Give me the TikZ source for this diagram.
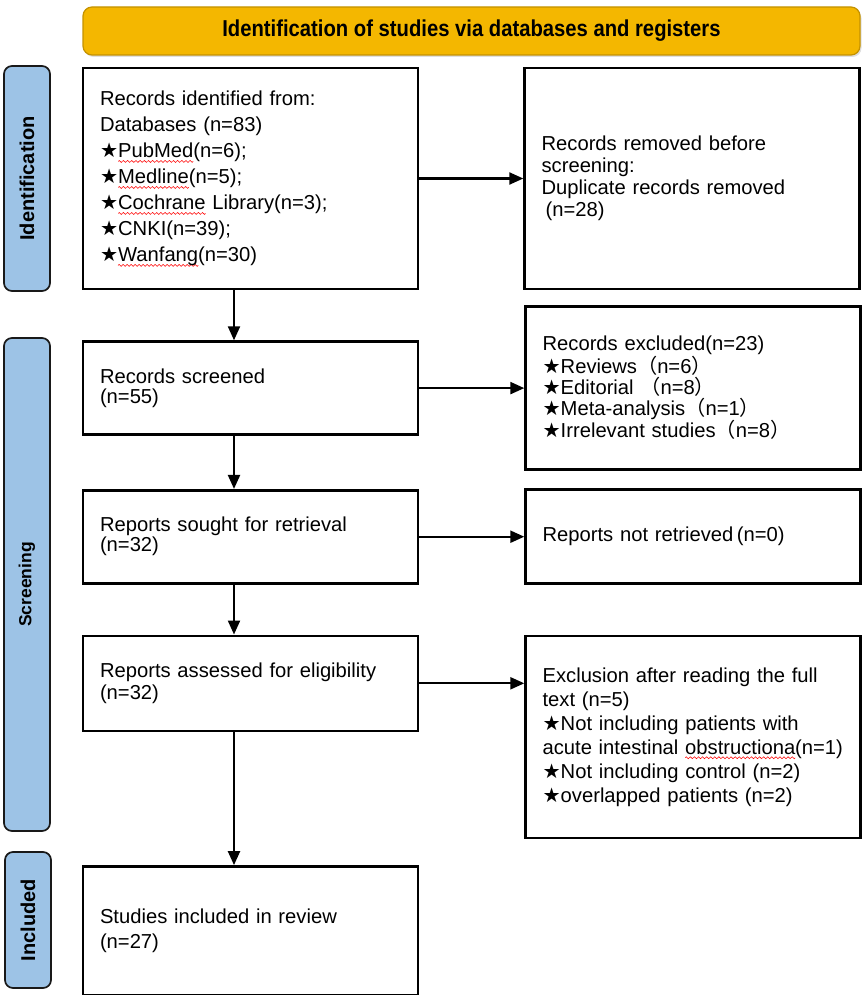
\documentclass[tikz,border=0pt]{standalone}
\usepackage{fontspec}
\setmainfont{Liberation Sans}
\newfontfamily\symfont{DejaVu Sans}
\newfontfamily\cjk{Noto Sans CJK SC}
\newfontfamily\narrowfont[FakeStretch=0.88]{Liberation Sans}
\usepackage{xcolor}
\usetikzlibrary{arrows.meta, positioning, shadows}

\definecolor{bannergold}{RGB}{244,183,0}
\definecolor{bannerline}{RGB}{196,146,0}
\definecolor{sideblue}{RGB}{157,195,230}

\newsavebox\wavebox
\newlength\wavelen
\newcommand\redwave[1]{\settowidth\wavelen{#1}\rlap{\raisebox{-5pt}[0pt][0pt]{\hbox to\wavelen{\xleaders\copy\wavebox\hfill}}}#1}
\newcommand\bstar{{\symfont ★}}
\newcommand\fwl{{\cjk （}}
\newcommand\fwr{{\cjk ）}}
\newcommand\fs[1]{\fontsize{20.2}{#1}\selectfont}

\begin{document}
\sbox\wavebox{\begin{pgfpicture}
  \pgfsetlinewidth{0.55pt}\pgfsetstrokecolor{red}
  \pgfpathmoveto{\pgfpoint{0pt}{0pt}}
  \pgfpathcurveto{\pgfpoint{0.7pt}{1.3pt}}{\pgfpoint{1.3pt}{1.3pt}}{\pgfpoint{2pt}{0pt}}
  \pgfpathcurveto{\pgfpoint{2.7pt}{-1.3pt}}{\pgfpoint{3.3pt}{-1.3pt}}{\pgfpoint{4pt}{0pt}}
  \pgfusepath{stroke}
  \pgfresetboundingbox
  \pgfpathrectangle{\pgfpoint{0pt}{-1.3pt}}{\pgfpoint{4pt}{2.6pt}}
  \pgfusepath{use as bounding box}
\end{pgfpicture}}
\begin{tikzpicture}[x=1pt, y=-1pt,
    box/.style={draw, line width=2.6pt, align=left, inner xsep=17pt, inner ysep=0pt,
      text width=301pt, minimum width=335pt},
    side/.style={draw=black!90, line width=1.7pt, fill=sideblue, rounded corners=8pt,
      rotate=90, minimum height=46pt, font=\bfseries\fontsize{20}{24}\selectfont},
    arr/.style={line width=2.2pt, -{Triangle[length=14pt, width=12pt]}}]
        \useasboundingbox (0,0) rectangle (863,995);

        % heading
        \draw node[draw=bannerline, line width=1.2pt, fill=bannergold, rounded corners=9pt,
          minimum width=777pt, minimum height=48pt,
          drop shadow={shadow xshift=1.5pt, shadow yshift=-2pt, opacity=0.25},
          font=\narrowfont\bfseries\fontsize{23}{26}\selectfont] (head) at (471.5,31)
          {Identification of studies via databases and registers};

        % phases
        \draw node[side, minimum width=225pt] (ph1) at (27,178.5) {Identification};
        \draw node[side, minimum width=493pt, font=\bfseries\fontsize{17.5}{22}\selectfont] (ph2) at (27,584.5) {Screening};
        \draw node[side, minimum width=136pt] (ph3) at (28,920) {Included};

        % main column
        \draw node[box, minimum height=221pt, font=\fs{26}] (rec) at (250.5,178.5)
          {Records identified from:\\ Databases (n=83)\\
           \bstar\redwave{PubMed}(n=6);\\ \bstar\redwave{Medline}(n=5);\\
           \bstar\redwave{Cochrane} Library(n=3);\\ \bstar CNKI(n=39);\\
           \bstar\redwave{Wanfang}(n=30)};
        \draw node[box, minimum height=93pt, font=\fs{20}, below=50pt of rec] (scr)
          {Records screened\\ (n=55)};
        \draw node[box, minimum height=93pt, font=\fs{20}, below=53pt of scr] (sought)
          {Reports sought for retrieval\\ (n=32)};
        \draw node[box, minimum height=95pt, font=\fs{22}, below=50pt of sought] (elig)
          {Reports assessed for eligibility\\ (n=32)};
        \draw node[box, minimum height=129pt, font=\fs{25}, below=133pt of elig] (incl)
          {Studies included in review\\ (n=27)};

        % excluded column
        \draw node[box, minimum height=221pt, font=\fs{22}, right=104pt of rec] (dup)
          {Records removed before\\ screening:\\ Duplicate records removed\\ \hspace{4pt}(n=28)};
        \draw node[box, minimum height=163pt, font=\fs{21}, right=105pt of scr] (excl)
          {Records excluded(n=23)\\ \bstar Reviews\fwl n=6\fwr\\ \bstar Editorial \fwl n=8\fwr\\
           \bstar Meta-analysis\fwl n=1\fwr\\ \bstar Irrelevant studies\fwl n=8\fwr};
        \draw node[box, minimum height=94pt, font=\fs{22}, right=105pt of sought] (notret)
          {Reports not retrieved\,(n=0)};
        \draw node[box, minimum height=202pt, font=\fs{24}, right=105pt of elig.north east, anchor=north west] (full)
          {Exclusion after reading the full\\ text (n=5)\\ \bstar Not including patients with\\
           acute intestinal \redwave{obstructiona}(n=1)\\ \bstar Not including control (n=2)\\
           \bstar overlapped patients (n=2)};

        % connectors
        \coordinate (ax) at (234,0);
        \foreach \a/\b in {rec/scr, scr/sought, sought/elig, elig/incl}
        \draw[arr] (\a.south -| ax) -- (\b.north -| ax);
        \foreach \a/\b in {rec/dup, scr/excl, sought/notret, elig/full}
        \draw[arr] (\a.east) -- (\a.east -| \b.west);
      \end{tikzpicture}
\end{document}
